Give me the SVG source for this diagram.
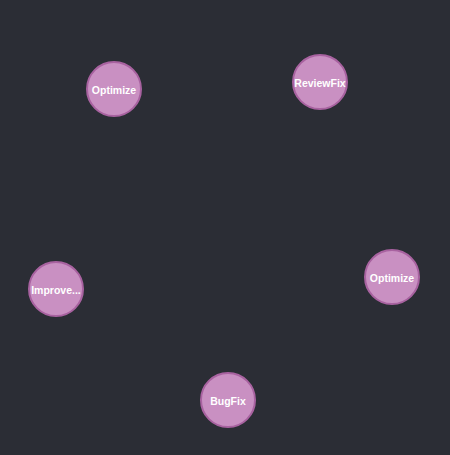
<svg xmlns="http://www.w3.org/2000/svg" width="450" height="455" viewBox="0 0 450 455">
<style>
.n circle{fill:#c990c2;stroke:#a862a0;stroke-width:2}
.n text{fill:#fff;font-family:"Liberation Sans",Arial,sans-serif;font-size:10.5px;font-weight:bold;text-anchor:middle;dominant-baseline:central}
</style>
<rect width="450" height="455" fill="#2b2d35"/>
<g id="connectors"></g>
<g id="n1" class="n"><circle cx="114" cy="89" r="27"/><text x="114" y="90">Optimize</text></g>
<g id="n2" class="n"><circle cx="320" cy="82" r="27"/><text x="320" y="83">ReviewFix</text></g>
<g id="n3" class="n"><circle cx="392" cy="277" r="27"/><text x="392" y="278">Optimize</text></g>
<g id="n4" class="n"><circle cx="56" cy="289" r="27"/><text x="56" y="290">Improve...</text></g>
<g id="n5" class="n"><circle cx="228" cy="400" r="27"/><text x="228" y="401">BugFix</text></g>
</svg>
